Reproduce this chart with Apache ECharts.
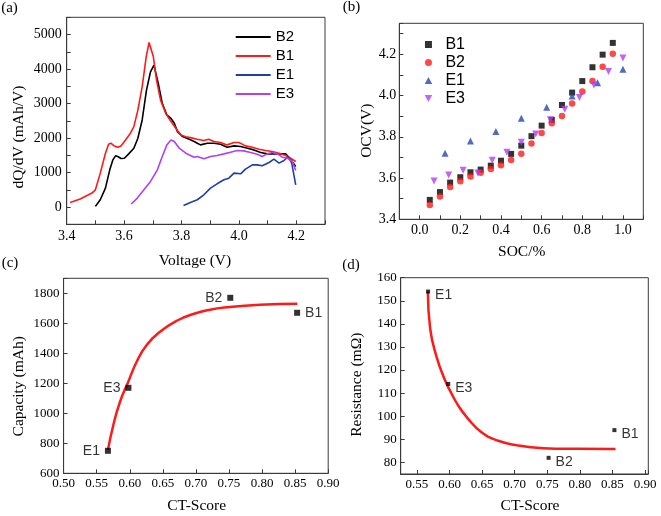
<!DOCTYPE html>
<html><head><meta charset="utf-8">
<script src="https://cdn.jsdelivr.net/npm/echarts@6/dist/echarts.min.js"></script>
<style>html,body{margin:0;padding:0;background:#fff}#c{width:661px;height:516px}</style>
</head><body><div id="c"></div>
<script>
// ---------- Panel (a): dQ/dV vs Voltage ----------
const aB2 = [[3.500,20],[3.517,212],[3.535,549],[3.550,1079],[3.561,1368],[3.570,1484],[3.578,1464],[3.589,1406],[3.601,1416],[3.616,1541],[3.634,1705],[3.648,1994],[3.663,2524],[3.678,3391],[3.692,3921],[3.704,4114],[3.710,4066],[3.719,3584],[3.733,3006],[3.749,2669],[3.763,2572],[3.775,2428],[3.786,2187],[3.804,2042],[3.827,1965],[3.844,1898],[3.855,1850],[3.866,1802],[3.890,1850],[3.913,1850],[3.936,1820],[3.959,1734],[3.983,1773],[4.006,1753],[4.030,1705],[4.052,1657],[4.076,1580],[4.099,1541],[4.122,1541],[4.145,1541],[4.163,1541],[4.180,1387],[4.198,1175]];
const aB1 = [[3.412,135],[3.447,231],[3.488,405],[3.500,500],[3.517,983],[3.535,1560],[3.546,1820],[3.554,1850],[3.564,1780],[3.578,1734],[3.589,1772],[3.605,1946],[3.622,2140],[3.634,2330],[3.648,2810],[3.663,3490],[3.677,4355],[3.687,4770],[3.692,4740],[3.702,4355],[3.713,3680],[3.727,3100],[3.745,2717],[3.760,2524],[3.780,2283],[3.798,2090],[3.815,2040],[3.831,2013],[3.855,1965],[3.878,1927],[3.895,1965],[3.913,1898],[3.936,1869],[3.959,1802],[3.983,1869],[4.000,1869],[4.023,1773],[4.047,1734],[4.070,1676],[4.093,1638],[4.116,1609],[4.140,1561],[4.163,1493],[4.180,1416],[4.198,1320]];
const aE1 = [[3.807,48],[3.831,135],[3.855,212],[3.878,356],[3.901,549],[3.924,674],[3.948,790],[3.965,838],[3.983,983],[4.006,963],[4.023,1098],[4.047,1223],[4.064,1223],[4.081,1195],[4.105,1291],[4.122,1387],[4.140,1272],[4.157,1349],[4.172,1464],[4.184,1272],[4.198,645]];
const aE3 = [[3.625,87],[3.646,260],[3.669,501],[3.692,742],[3.716,1079],[3.733,1464],[3.749,1802],[3.763,1946],[3.775,1898],[3.792,1705],[3.815,1561],[3.844,1445],[3.855,1464],[3.878,1397],[3.901,1464],[3.924,1493],[3.948,1541],[3.971,1590],[3.994,1638],[4.017,1628],[4.041,1580],[4.064,1532],[4.081,1464],[4.099,1541],[4.116,1580],[4.134,1541],[4.151,1445],[4.169,1416],[4.186,1320],[4.198,1060]];

// ---------- Panel (b): OCV vs SOC ----------
const bSocB = [0.05,0.10,0.15,0.20,0.25,0.30,0.35,0.40,0.45,0.50,0.55,0.60,0.65,0.70,0.75,0.80,0.85,0.90,0.95];
const bOcvB1 = [3.494,3.532,3.578,3.604,3.628,3.641,3.660,3.684,3.717,3.757,3.803,3.854,3.882,3.954,4.014,4.070,4.137,4.198,4.255];
const bOcvB2 = [3.469,3.510,3.557,3.584,3.608,3.626,3.644,3.662,3.688,3.718,3.768,3.818,3.865,3.901,3.961,4.020,4.070,4.140,4.203];
const bSocE1 = [0.125,0.25,0.375,0.5,0.625,0.75,0.875,1.0];
const bOcvE1 = [3.720,3.780,3.825,3.890,3.943,3.998,4.062,4.127];
const bSocE3 = [0.071,0.143,0.214,0.286,0.357,0.429,0.5,0.571,0.643,0.714,0.786,0.857,0.929,1.0];
const bOcvE3 = [3.586,3.615,3.638,3.624,3.686,3.725,3.773,3.814,3.882,3.933,3.990,4.051,4.116,4.182];

// ---------- Panel (c) & (d): vs CT-Score ----------
const cellNames = ['E1','E3','B2','B1'];
const ctScore = [0.567,0.598,0.752,0.853];
const capacity = [750,1170,1770,1670];
const resistance = [154,114,82,94];
const capFit = [[0.567,755],[0.5752,922],[0.5853,1077],[0.5978,1211],[0.6105,1344],[0.6256,1455],[0.6458,1544],[0.671,1617],[0.6961,1662],[0.7213,1691],[0.7466,1707],[0.797,1724],[0.8534,1731]];
const resFit = [[0.5667,154],[0.5702,138],[0.5803,125.5],[0.5929,115.7],[0.6005,111.2],[0.6131,104.7],[0.6282,99.0],[0.6485,93.2],[0.6736,89.5],[0.7039,87.4],[0.7444,86.2],[0.7949,85.9],[0.8547,85.8]];

const capLabelPos = ['left','left','left','right'];

const SERIF = 'Liberation Serif, "Times New Roman", serif';
const SANS = 'Liberation Sans, Arial, sans-serif';
const AX = '#3a3a3a';

function near(v, step){ const k = Math.round(v/step); return Math.abs(v/step - k) < 1e-6; }

function axis(grid, opt, label){
  return Object.assign({
    gridIndex: grid, type: 'value', scale: true,
    axisLine: {show: true, onZero: false, lineStyle: {color: AX, width: 1}},
    axisTick: {show: true, inside: true, length: 4, lineStyle: {color: AX}},
    splitLine: {show: false},
    axisLabel: Object.assign({fontFamily: SERIF, color: '#000'}, label)
  }, opt);
}

const xAxes = [
  axis(0, {min: 3.4, max: 4.3, interval: 0.1}, {fontSize: 14, margin: 5,
    formatter: v => (near(v,0.2) && v < 4.25) ? v.toFixed(1) : ''}),
  axis(1, {min: -0.1, max: 1.1, interval: 0.1}, {fontSize: 14, margin: 4,
    formatter: v => (near(v,0.2) && v > -0.05 && v < 1.05) ? v.toFixed(1) : ''}),
  axis(2, {min: 0.5, max: 0.9, interval: 0.05}, {fontSize: 13, margin: 4,
    formatter: v => v.toFixed(2)}),
  axis(3, {min: 0.525, max: 0.905, splitNumber: 7}, {fontSize: 13, margin: 4,
    formatter: v => (near(v,0.05) && v > 0.53 && v < 0.901) ? v.toFixed(2) : ''})
];
const yAxes = [
  axis(0, {min: -500, max: 5500, interval: 500}, {fontSize: 14, margin: 5,
    formatter: v => (v >= 0 && near(v,1000)) ? String(Math.round(v)) : ''}),
  axis(1, {min: 3.4, max: 4.35, interval: 0.1}, {fontSize: 14, margin: 3,
    formatter: v => (near(v,0.2) && v < 4.25) ? v.toFixed(1) : ''}),
  axis(2, {min: 600, max: 1900, interval: 200}, {fontSize: 13, margin: 4,
    formatter: v => v <= 1800 ? String(v) : ''}),
  axis(3, {min: 75, max: 160, splitNumber: 8}, {fontSize: 13, margin: 4,
    formatter: v => (near(v,10) && v >= 80) ? String(Math.round(v)) : ''})
];

const gridBorder = {show: true, borderColor: AX, borderWidth: 1, backgroundColor: 'transparent'};
const grids = [
  Object.assign({left: 66.7, top: 17.3, width: 258.3, height: 207}, gridBorder),
  Object.assign({left: 399.3, top: 23.3, width: 244, height: 196}, gridBorder),
  Object.assign({left: 63.6, top: 278.3, width: 264.6, height: 195}, gridBorder),
  Object.assign({left: 400.7, top: 277.7, width: 247.6, height: 196.3}, gridBorder)
];

function lineA(name, data, color){
  return {name: name, type: 'line', xAxisIndex: 0, yAxisIndex: 0, data: data, symbol: 'none',
    lineStyle: {color: color, width: 1.6}, itemStyle: {color: color}, z: 3};
}
function zip(xs, ys){ return xs.map((x, i) => [x, ys[i]]); }
function scatB(name, xs, ys, symbol, size, color){
  return {name: name, type: 'scatter', xAxisIndex: 1, yAxisIndex: 1, data: zip(xs, ys),
    symbol: symbol, symbolSize: size, itemStyle: {color: color}};
}
const invTri = 'path://M0,0 L10,0 L5,9 Z';

// legend icon shapes
const icLine = 'path://M0,0 L35,0 L35,2 L0,2 Z';
const icSquare = 'path://M0,0 L7,0 L7,7 L0,7 Z';
const icCircle = 'path://M0,3.5 A3.5,3.5 0 1 0 7,3.5 A3.5,3.5 0 1 0 0,3.5 Z';
const icTriUp = 'path://M3.75,0 L7.5,7 L0,7 Z';
const icTriDown = 'path://M0,0 L7.5,0 L3.75,7 Z';

const series = [
  lineA('B2a', aB2, '#000000'),
  lineA('B1a', aB1, '#ff1a1a'),
  lineA('E1a', aE1, '#1f3fa6'),
  lineA('E3a', aE3, '#b040f0'),
  scatB('B1b', bSocB, bOcvB1, 'rect', 6, '#000000'),
  scatB('B2b', bSocB, bOcvB2, 'circle', 6.5, '#ff1a1a'),
  scatB('E1b', bSocE1, bOcvE1, 'triangle', 7, '#2646b0'),
  scatB('E3b', bSocE3, bOcvE3, invTri, 7, '#b23cf0'),
  {name: 'capFit', type: 'line', xAxisIndex: 2, yAxisIndex: 2, data: capFit, smooth: true, symbol: 'none',
    lineStyle: {color: '#ff1a1a', width: 2.5}, z: 2},
  {name: 'capPts', type: 'scatter', xAxisIndex: 2, yAxisIndex: 2, symbol: 'rect', symbolSize: 6,
    itemStyle: {color: '#000'}, z: 3,
    data: cellNames.map((n, i) => ({name: n, value: [ctScore[i], capacity[i]],
      label: {show: true, position: capLabelPos[i], distance: 5, formatter: '{b}',
        fontFamily: SANS, fontSize: 14, color: '#000'}}))},
  {name: 'resFit', type: 'line', xAxisIndex: 3, yAxisIndex: 3, data: resFit, smooth: true, symbol: 'none',
    lineStyle: {color: '#ff1a1a', width: 2.5}, z: 2},
  {name: 'resPts', type: 'scatter', xAxisIndex: 3, yAxisIndex: 3, symbol: 'rect', symbolSize: 4,
    itemStyle: {color: '#000'}, z: 3,
    data: cellNames.map((n, i) => ({name: n, value: [ctScore[i], resistance[i]],
      label: {show: true, position: 'right', distance: 5, offset: [0, 4], formatter: '{b}',
        fontFamily: SANS, fontSize: 14, color: '#000'}}))}
];

function txt(x, y, text, size, rot){
  return {type: 'text', x: x, y: y, rotation: rot ? Math.PI/2 : 0, z: 10,
    style: {text: text, font: size + 'px ' + SERIF, fill: '#000', align: 'center', verticalAlign: 'middle'}};
}
const graphics = [
  txt(9.5, 8.5, '(a)', 15), txt(351.5, 7.5, '(b)', 15), txt(10, 263, '(c)', 15), txt(351, 265.3, '(d)', 15),
  txt(18.5, 137, 'dQ/dV (mAh/V)', 15.5, true),
  txt(195, 261, 'Voltage (V)', 15.5),
  txt(366.7, 130.7, 'OCV(V)', 15.5, true),
  txt(521.7, 252, 'SOC/%', 15.5),
  txt(19, 386.3, 'Capacity (mAh)', 15.5, true),
  txt(196.7, 506.3, 'CT-Score', 15.5),
  txt(357.3, 384.7, 'Resistance (m\u03A9)', 15.5, true),
  txt(530, 506.3, 'CT-Score', 15.5)
];

const chart = echarts.init(document.getElementById('c'), null, {renderer: 'canvas'});
chart.setOption({
  animation: false,
  backgroundColor: '#fff',
  grid: grids,
  xAxis: xAxes,
  yAxis: yAxes,
  legend: [
    {data: ['B2a','B1a','E1a','E3a'].map(n => ({name: n, icon: icLine})),
      orient: 'vertical', left: 230.7, top: 24.5, itemWidth: 35, itemHeight: 14,
      itemGap: 4, selectedMode: false, symbolKeepAspect: true, formatter: n => n.slice(0, 2),
      textStyle: {fontFamily: SANS, fontSize: 15, color: '#000'}},
    {data: [{name: 'B1b', icon: icSquare}, {name: 'B2b', icon: icCircle},
            {name: 'E1b', icon: icTriUp}, {name: 'E3b', icon: icTriDown}],
      orient: 'vertical', left: 419.7, top: 31.5, itemWidth: 24, itemHeight: 7,
      itemGap: 2, selectedMode: false, symbolKeepAspect: true, formatter: n => n.slice(0, 2),
      textStyle: {fontFamily: SANS, fontSize: 16, color: '#000'}}
  ],
  series: series,
  graphic: graphics
});
</script></body></html>
